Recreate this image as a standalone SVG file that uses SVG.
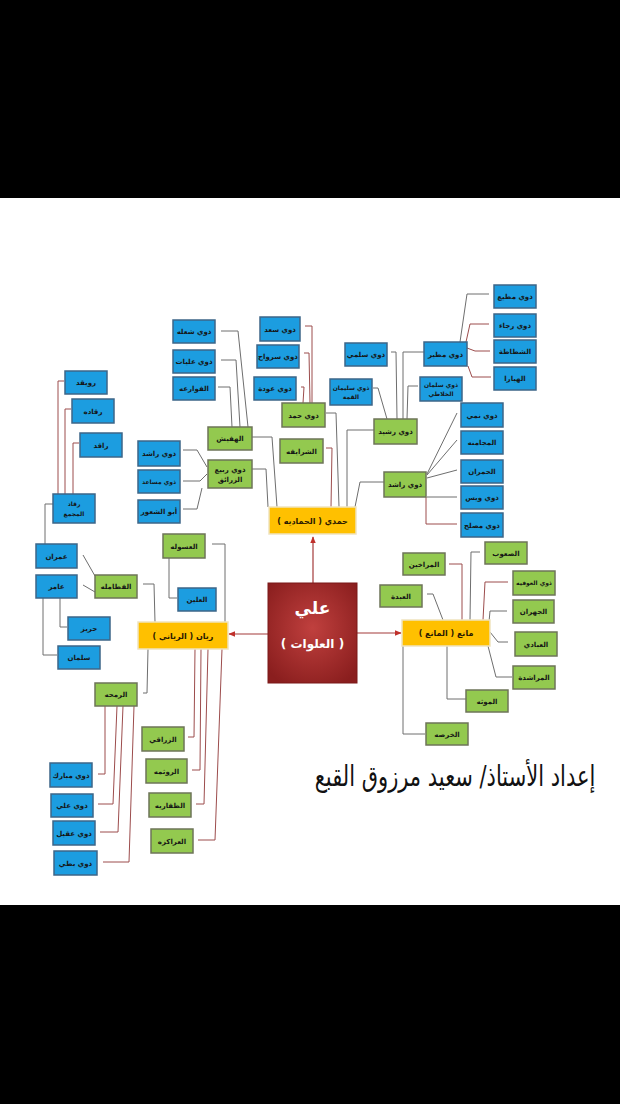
<svg xmlns="http://www.w3.org/2000/svg" width="620" height="1104" viewBox="0 0 620 1104">
<style>
.bl{fill:#1c9de0;stroke:#3d6688;stroke-width:1.5}
.gr{fill:#93c94f;stroke:#6e7458;stroke-width:1.5}
.ye{fill:#ffc000;stroke:#efe3bf;stroke-width:1.5}
.t{font-family:"DejaVu Sans",sans-serif;font-size:7px;font-weight:bold;text-anchor:middle;fill:#151515}
.ts{font-family:"DejaVu Sans",sans-serif;font-size:6px;font-weight:bold;text-anchor:middle;fill:#151515}
.ty{font-family:"DejaVu Sans",sans-serif;font-size:8px;font-weight:bold;text-anchor:middle;fill:#2a1a00}
.ln{fill:none;stroke:#9c4c4c;stroke-width:1}
.lg{fill:none;stroke:#6e6e6e;stroke-width:1}
.ar{fill:none;stroke:#a33a3a;stroke-width:1.2}
</style>
<defs>
<marker id="ah" viewBox="0 0 10 10" refX="9" refY="5" markerWidth="6" markerHeight="6" orient="auto">
<path d="M0,1 L10,5 L0,9 z" fill="#c0302b"/>
</marker>
<radialGradient id="rg" cx="50%" cy="45%" r="65%">
<stop offset="0" stop-color="#c0403e"/>
<stop offset="1" stop-color="#8a1e1e"/>
</radialGradient>
</defs>
<rect x="0" y="0" width="620" height="1104" fill="#000"/>
<rect x="0" y="198" width="620" height="707" fill="#fff"/>

<g id="connectors">
<line class="ar" x1="313" y1="583" x2="313" y2="537" marker-end="url(#ah)"/>
<line class="ar" x1="268" y1="634" x2="229" y2="634" marker-end="url(#ah)"/>
<line class="ar" x1="357" y1="633" x2="401" y2="633" marker-end="url(#ah)"/>
<polyline class="lg" points="252,437 272,437 277,507"/>
<polyline class="lg" points="252,469 266,469 268,507"/>
<polyline class="lg" points="326,413 336,413 339,507"/>
<polyline class="ln" points="326,448 332,448 331,507"/>
<polyline class="lg" points="374,430 347,430 347,507"/>
<polyline class="lg" points="384,482 360,482 355,507"/>
<polyline class="lg" points="221,331 238,331 248,427"/>
<polyline class="lg" points="221,360 236,360 240,427"/>
<polyline class="lg" points="218,387 230,387 232,427"/>
<polyline class="lg" points="183,450 197,450 207,467"/>
<polyline class="lg" points="183,481 200,481 207,474"/>
<polyline class="lg" points="183,509 197,509 202,488"/>
<polyline class="ln" points="305,326 312,326 312,403"/>
<polyline class="ln" points="304,353 309,353 310,403"/>
<polyline class="ln" points="301,387 304,387 303,403"/>
<polyline class="lg" points="373,388 378,388 387,419"/>
<polyline class="lg" points="391,352 396,352 397,419"/>
<polyline class="lg" points="424,352 403,352 403,419"/>
<polyline class="lg" points="418,386 408,386 407,419"/>
<polyline class="lg" points="489,294 467,294 460,342"/>
<polyline class="ln" points="489,324 470,324 466,342"/>
<polyline class="ln" points="490,351 475,351 467,348"/>
<polyline class="ln" points="491,377 472,377 468,366"/>
<polyline class="lg" points="457,413 427,474"/>
<polyline class="lg" points="457,440 427,475"/>
<polyline class="lg" points="457,470 427,478"/>
<polyline class="lg" points="457,497 427,497"/>
<polyline class="ln" points="457,524 426,524 426,497"/>
<polyline class="ln" points="64,381 58,381 58,494"/>
<polyline class="ln" points="71,409 65,409 65,494"/>
<polyline class="ln" points="79,443 73,443 73,494"/>
<polyline class="lg" points="53,504 45,504 45,544"/>
<polyline class="lg" points="83,555 95,576"/>
<polyline class="lg" points="83,585 95,592"/>
<polyline class="lg" points="60,598 60,627 67,627"/>
<polyline class="lg" points="43,598 43,655 57,655"/>
<polyline class="lg" points="143,584 154,584 155,622"/>
<polyline class="lg" points="212,544 225,544 225,622"/>
<polyline class="lg" points="177,598 169,598 169,558"/>
<polyline class="lg" points="143,693 147,693 148,649"/>
<polyline class="ln" points="188,737 194,737 195,649"/>
<polyline class="ln" points="192,770 200,770 201,649"/>
<polyline class="ln" points="196,804 204,804 208,649"/>
<polyline class="ln" points="198,840 215,840 222,649"/>
<polyline class="ln" points="98,774 105,774 105,706"/>
<polyline class="ln" points="98,804 113,804 117,706"/>
<polyline class="ln" points="100,832 118,832 123,706"/>
<polyline class="ln" points="103,862 129,862 134,706"/>
<polyline class="ln" points="449,564 462,564 462,620"/>
<polyline class="lg" points="427,594 433,594 443,620"/>
<polyline class="lg" points="480,552 471,552 470,620"/>
<polyline class="ln" points="508,582 485,582 483,620"/>
<polyline class="lg" points="507,611 490,611 489,622"/>
<polyline class="lg" points="508,642 498,642 490,632"/>
<polyline class="lg" points="512,677 496,677 488,646"/>
<polyline class="lg" points="466,699 447,699 447,646"/>
<polyline class="lg" points="425,734 403,734 403,646"/>
</g>

<g id="n-center">
<rect x="268" y="583" width="89" height="100" fill="url(#rg)" stroke="#7a1818" stroke-width="1"/>
<text x="312.5" y="614" font-family="'DejaVu Sans',sans-serif" font-size="17" font-weight="bold" fill="#fff" text-anchor="middle">علي</text>
<text x="312.5" y="648" font-family="'DejaVu Sans',sans-serif" font-size="12" font-weight="bold" fill="#fff" text-anchor="middle">( العلوات )</text>
</g>

<g id="n-hamdi"><rect class="ye" x="269" y="507" width="87" height="27"/><text class="ty" x="312.5" y="523.5">حمدي ( الحماديه )</text></g>
<g id="n-rayan"><rect class="ye" x="138" y="622" width="90" height="27"/><text class="ty" x="183" y="638.5">ريان ( الرياني )</text></g>
<g id="n-mani"><rect class="ye" x="402" y="620" width="88" height="26"/><text class="ty" x="446" y="636">مانع ( المانع )</text></g>

<g id="n-hafish"><rect class="gr" x="208" y="427" width="44" height="23"/><text class="t" x="230" y="441">الهفيش</text></g>
<g id="n-rabi"><rect class="gr" x="208" y="460" width="44" height="28"/><text class="t" x="230" y="472">ذوي ربيع</text><text class="t" x="230" y="482">الزرائق</text></g>
<g id="n-hamad"><rect class="gr" x="282" y="403" width="43" height="24"/><text class="t" x="303.5" y="417.5">ذوي حمد</text></g>
<g id="n-sharayfa"><rect class="gr" x="280" y="439" width="43" height="24"/><text class="t" x="301.5" y="453.5">الشرايفه</text></g>
<g id="n-rashid"><rect class="gr" x="374" y="419" width="43" height="25"/><text class="t" x="395.5" y="434">ذوي رشيد</text></g>
<g id="n-rashed"><rect class="gr" x="384" y="472" width="42" height="25"/><text class="t" x="405" y="487">ذوي راشد</text></g>
<g id="n-maraakhin"><rect class="gr" x="403" y="553" width="42" height="22"/><text class="t" x="424" y="566.5">المراخين</text></g>
<g id="n-abda"><rect class="gr" x="380" y="585" width="42" height="22"/><text class="t" x="401" y="598.5">العبدة</text></g>
<g id="n-saub"><rect class="gr" x="485" y="542" width="42" height="22"/><text class="t" x="506" y="555.5">الصعوب</text></g>
<g id="n-awfiya"><rect class="gr" x="513" y="571" width="42" height="24"/><text class="ts" x="534" y="585">ذوي العوفيه</text></g>
<g id="n-jahran"><rect class="gr" x="513" y="600" width="41" height="23"/><text class="t" x="533.5" y="614">الجهران</text></g>
<g id="n-abadi"><rect class="gr" x="515" y="632" width="42" height="24"/><text class="t" x="536" y="646.5">العبادي</text></g>
<g id="n-marashda"><rect class="gr" x="513" y="666" width="42" height="23"/><text class="t" x="534" y="680">المراشدة</text></g>
<g id="n-mawtha"><rect class="gr" x="466" y="690" width="42" height="22"/><text class="t" x="487" y="703.5">الموثه</text></g>
<g id="n-kharsa"><rect class="gr" x="426" y="723" width="42" height="22"/><text class="t" x="447" y="736.5">الخرصه</text></g>
<g id="n-asula"><rect class="gr" x="163" y="534" width="42" height="24"/><text class="t" x="184" y="548.5">العسوله</text></g>
<g id="n-fatamla"><rect class="gr" x="95" y="575" width="42" height="23"/><text class="t" x="116" y="589">الفطامله</text></g>
<g id="n-ramha"><rect class="gr" x="95" y="683" width="42" height="23"/><text class="t" x="116" y="697">الرمحه</text></g>
<g id="n-zaraqi"><rect class="gr" x="142" y="727" width="42" height="24"/><text class="t" x="163" y="741.5">الزراقي</text></g>
<g id="n-rawthma"><rect class="gr" x="146" y="759" width="41" height="24"/><text class="t" x="166.5" y="773.5">الروثمه</text></g>
<g id="n-dhafariya"><rect class="gr" x="149" y="793" width="42" height="24"/><text class="t" x="170" y="807.5">الظفاريه</text></g>
<g id="n-arakza"><rect class="gr" x="151" y="829" width="42" height="24"/><text class="t" x="172" y="843.5">العراكزه</text></g>

<g id="n-rwiqd"><rect class="bl" x="65" y="371" width="42" height="23"/><text class="t" x="86" y="385">رويقد</text></g>
<g id="n-raqada"><rect class="bl" x="72" y="399" width="42" height="24"/><text class="t" x="93" y="413.5">رقاده</text></g>
<g id="n-raqd"><rect class="bl" x="80" y="433" width="42" height="24"/><text class="t" x="101" y="447.5">راقد</text></g>
<g id="n-raqadmj"><rect class="bl" x="53" y="494" width="42" height="29"/><text class="ts" x="74" y="506">رقاد</text><text class="ts" x="74" y="516">المجمع</text></g>
<g id="n-imran"><rect class="bl" x="36" y="544" width="41" height="24"/><text class="t" x="56.5" y="558.5">عمران</text></g>
<g id="n-amer"><rect class="bl" x="36" y="575" width="41" height="23"/><text class="t" x="56.5" y="589">عامر</text></g>
<g id="n-hariz"><rect class="bl" x="68" y="617" width="42" height="23"/><text class="t" x="89" y="631">حريز</text></g>
<g id="n-salman"><rect class="bl" x="58" y="646" width="42" height="23"/><text class="t" x="79" y="660">سلمان</text></g>
<g id="n-alin"><rect class="bl" x="178" y="588" width="38" height="23"/><text class="t" x="197" y="602">العلين</text></g>
<g id="n-mubarak"><rect class="bl" x="50" y="763" width="42" height="24"/><text class="t" x="71" y="777.5">ذوي مبارك</text></g>
<g id="n-ali"><rect class="bl" x="51" y="794" width="42" height="23"/><text class="t" x="72" y="808">ذوي علي</text></g>
<g id="n-aqil"><rect class="bl" x="53" y="821" width="42" height="24"/><text class="t" x="74" y="835.5">ذوي عقيل</text></g>
<g id="n-butti"><rect class="bl" x="54" y="851" width="43" height="24"/><text class="t" x="75.5" y="865.5">ذوي بطي</text></g>
<g id="n-shala"><rect class="bl" x="173" y="320" width="42" height="23"/><text class="t" x="194" y="334">ذوي شعله</text></g>
<g id="n-aliyat"><rect class="bl" x="173" y="350" width="42" height="23"/><text class="t" x="194" y="364">ذوي عليات</text></g>
<g id="n-fawarea"><rect class="bl" x="173" y="377" width="42" height="23"/><text class="t" x="194" y="391">الفوارعه</text></g>
<g id="n-rashed2"><rect class="bl" x="138" y="441" width="42" height="25"/><text class="t" x="159" y="456">ذوي راشد</text></g>
<g id="n-musaed"><rect class="bl" x="138" y="470" width="42" height="23"/><text class="ts" x="159" y="484">ذوي مساعد</text></g>
<g id="n-abushuur"><rect class="bl" x="138" y="500" width="42" height="23"/><text class="t" x="159" y="514">أبو الشعور</text></g>
<g id="n-saad"><rect class="bl" x="260" y="317" width="40" height="24"/><text class="t" x="280" y="331.5">ذوي سعد</text></g>
<g id="n-sarwah"><rect class="bl" x="257" y="345" width="42" height="23"/><text class="t" x="278" y="359">ذوي سرواح</text></g>
<g id="n-awda"><rect class="bl" x="254" y="377" width="42" height="23"/><text class="t" x="275" y="391">ذوي عودة</text></g>
<g id="n-sulaiman"><rect class="bl" x="330" y="379" width="42" height="26"/><text class="ts" x="351" y="390">ذوي سليمان</text><text class="ts" x="351" y="399">القمة</text></g>
<g id="n-salmi"><rect class="bl" x="345" y="343" width="42" height="23"/><text class="t" x="366" y="357">ذوي سلمي</text></g>
<g id="n-mutair"><rect class="bl" x="424" y="342" width="43" height="24"/><text class="t" x="445.5" y="356.5">ذوي مطير</text></g>
<g id="n-salman2"><rect class="bl" x="420" y="377" width="42" height="24"/><text class="ts" x="441" y="387">ذوي سلمان</text><text class="ts" x="441" y="396">الخلاطي</text></g>
<g id="n-mutie"><rect class="bl" x="494" y="285" width="42" height="23"/><text class="t" x="515" y="299">ذوي مطيع</text></g>
<g id="n-raja"><rect class="bl" x="494" y="314" width="42" height="23"/><text class="t" x="515" y="328">ذوي رجاء</text></g>
<g id="n-shatata"><rect class="bl" x="494" y="340" width="42" height="23"/><text class="t" x="515" y="354">الشطاطة</text></g>
<g id="n-hayara"><rect class="bl" x="494" y="367" width="42" height="23"/><text class="t" x="515" y="381">الهيارا</text></g>
<g id="n-nami"><rect class="bl" x="461" y="403" width="42" height="24"/><text class="t" x="482" y="417.5">ذوي نمي</text></g>
<g id="n-mujamna"><rect class="bl" x="461" y="431" width="42" height="23"/><text class="t" x="482" y="445">المجامنه</text></g>
<g id="n-hamran"><rect class="bl" x="461" y="460" width="42" height="23"/><text class="t" x="482" y="474">الحمران</text></g>
<g id="n-wais"><rect class="bl" x="461" y="486" width="42" height="23"/><text class="t" x="482" y="500">ذوي ويس</text></g>
<g id="n-musleh"><rect class="bl" x="461" y="513" width="42" height="24"/><text class="t" x="482" y="527.5">ذوي مصلح</text></g>

<g id="signature" transform="translate(455,786) scale(1,1.35)">
<text x="0" y="0" font-family="'DejaVu Sans',sans-serif" font-size="21" fill="#111" text-anchor="middle">إعداد الأستاذ/ سعيد مرزوق القبع</text>
</g>
</svg>
